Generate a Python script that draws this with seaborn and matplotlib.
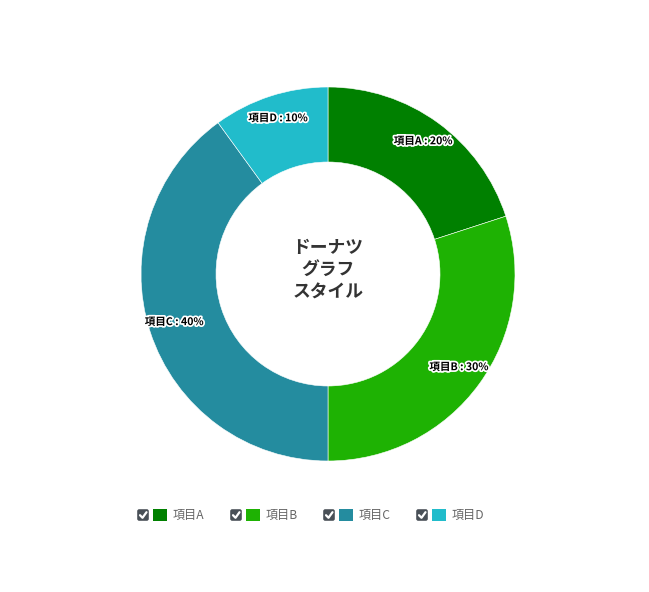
import matplotlib
matplotlib.use("Agg")
import matplotlib.pyplot as plt
import matplotlib.patheffects as pe
from matplotlib.patches import FancyBboxPatch, Rectangle
import seaborn as sns
import numpy as np

categories = ["項目A", "項目B", "項目C", "項目D"]
values = [20, 30, 40, 10]
colors = ["#008000", "#1eb203", "#248c9f", "#21bccb"]
center_title = "ドーナツ\nグラフ\nスタイル"

sns.set_theme(style="white")
plt.rcParams['font.family'] = ['Noto Sans CJK JP', 'DejaVu Sans']

W, H = 649, 592
fig = plt.figure(figsize=(W / 100, H / 100), dpi=100)
fig.patch.set_facecolor("white")

cx, cy, R = 328, 274, 187
ax = fig.add_axes([(cx - R) / W, (H - cy - R) / H, 2 * R / W, 2 * R / H])
wedges, _ = ax.pie(values, colors=colors, startangle=90, counterclock=False,
                   radius=1.0,
                   wedgeprops=dict(width=1 - 112 / 187, edgecolor="white", linewidth=0.4))
ax.set_xlim(-1, 1)
ax.set_ylim(-1, 1)
ax.set_aspect("equal")
ax.axis("off")

total = sum(values)
cum = 0
for cat, v in zip(categories, values):
    mid = 90 - 360 * (cum + v / 2) / total
    cum += v
    r = 0.865
    x, y = r * np.cos(np.radians(mid)), r * np.sin(np.radians(mid)) + 0.01
    ax.text(x, y, f"{cat} : {v}%", ha="center", va="center", fontsize=7.6,
            fontweight="bold", color="black",
            path_effects=[pe.withStroke(linewidth=2.5, foreground="white")])

ax.text(0, 0.02, center_title, ha="center", va="center", fontsize=12.8,
        fontweight="bold", color="#333333", linespacing=1.28)

# legend drawn in pixel coordinates
lax = fig.add_axes([0, 0, 1, 1], facecolor="none")
lax.set_xlim(0, W)
lax.set_ylim(H, 0)
lax.axis("off")
for i, (cat, col) in enumerate(zip(categories, colors)):
    x0 = 137 + 93 * i
    y0 = 509
    lax.add_patch(FancyBboxPatch((x0 + 1, y0 + 1), 10, 10,
                                 boxstyle="round,pad=0.8,rounding_size=2",
                                 facecolor="#495057", edgecolor="none"))
    lax.plot([x0 + 3, x0 + 5.5, x0 + 9.5], [y0 + 6.2, y0 + 8.8, y0 + 3.2],
             color="white", linewidth=1.6, solid_capstyle="round")
    lax.add_patch(Rectangle((x0 + 16, y0), 14, 12, facecolor=col, edgecolor="none"))
    lax.text(x0 + 36, y0 + 6, cat, ha="left", va="center", fontsize=8.7,
             color="#666666")

fig.savefig("out.png", dpi=100, facecolor="white")
